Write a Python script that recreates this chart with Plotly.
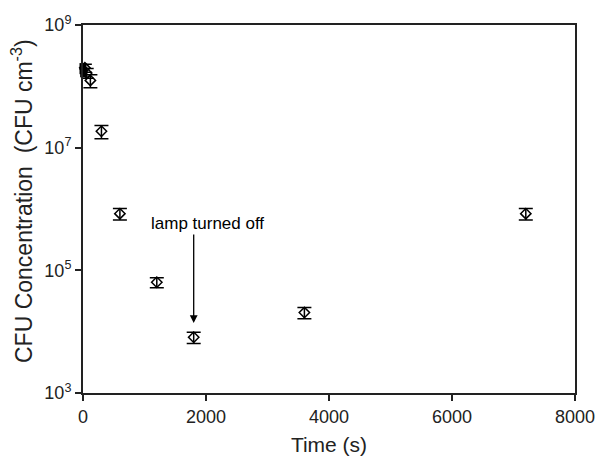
import plotly.graph_objects as go

# Data
time_s = [30, 60, 120, 300, 600, 1200, 1800, 3600, 7200]
cfu = [2.0e8, 1.65e8, 1.25e8, 1.85e7, 8.4e5, 6.4e4, 8.1e3, 2.05e4, 8.4e5]
cfu_err = [0.3e8, 0.3e8, 0.3e8, 0.45e7, 1.8e5, 1.2e4, 1.7e3, 4.2e3, 1.8e5]

t0_time = [0, 0, 10]
t0_cfu = [2.1e8, 1.8e8, 1.6e8]

y_tickvals = [1e3, 1e5, 1e7, 1e9]
y_ticktext = ["10<sup>3</sup>", "10<sup>5</sup>", "10<sup>7</sup>", "10<sup>9</sup>"]
x_tickvals = [0, 2000, 4000, 6000, 8000]

FONT = "Liberation Sans, Arial, sans-serif"

fig = go.Figure()
fig.add_trace(go.Scatter(
    x=t0_time, y=t0_cfu, mode="markers",
    marker=dict(symbol="square", size=7, color="black"),
    cliponaxis=False, showlegend=False,
))
fig.add_trace(go.Scatter(
    x=time_s, y=cfu, mode="markers",
    marker=dict(symbol="diamond-open", size=8, color="black", line=dict(width=1.5, color="black")),
    error_y=dict(type="data", array=cfu_err, color="black", thickness=1.5, width=7),
    cliponaxis=False, showlegend=False,
))

fig.add_annotation(x=2030, y=5.77, xref="x", yref="y", text="lamp turned off",
                   showarrow=False, font=dict(family=FONT, size=17, color="black"))
fig.add_annotation(x=1800, y=4.14, xref="x", yref="y", ax=1800, ay=5.61, axref="x", ayref="y",
                   text="", showarrow=True, arrowhead=2, arrowsize=1.2, arrowwidth=1.3, arrowcolor="black")
# y-axis title
fig.add_annotation(x=0, y=0.5, xref="paper", yref="paper", xanchor="center", yanchor="middle",
                   xshift=-61, yshift=8, textangle=-90,
                   text="CFU Concentration  (CFU cm<sup>-3</sup>)", showarrow=False,
                   font=dict(family=FONT, size=23, color="#222"))

axis_common = dict(showline=True, linecolor="#222", linewidth=2, mirror=True, showgrid=False,
                   zeroline=False, ticks="outside", tickcolor="#222", tickwidth=1.5, ticklen=6,
                   ticklabeloverflow="allow", automargin=False,
                   tickfont=dict(family=FONT, size=18, color="#222"))

fig.update_xaxes(range=[0, 8000], tickvals=x_tickvals,
                 title=dict(text="Time (s)", font=dict(family=FONT, size=21, color="#222")),
                 **axis_common)
fig.update_yaxes(type="log", range=[3, 9], tickvals=y_tickvals, ticktext=y_ticktext,
                 **axis_common)

fig.update_layout(width=598, height=456, margin=dict(l=83, r=23, t=25, b=63),
                  plot_bgcolor="white", paper_bgcolor="white")

fig.write_html("out.html")
